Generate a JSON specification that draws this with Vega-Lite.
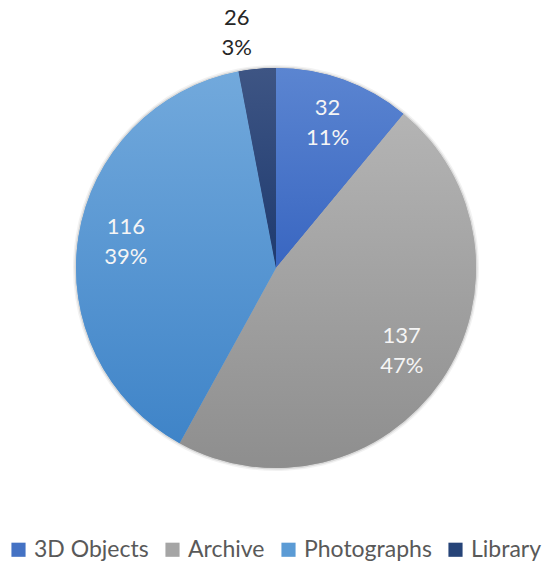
{
  "$schema": "https://vega.github.io/schema/vega-lite/v6.json",
  "width": 542,
  "height": 536,
  "autosize": "none",
  "padding": {"left": 5, "top": 0, "right": 0, "bottom": 27},
  "background": "white",
  "config": {"view": {"stroke": null}, "font": "Lato"},
  "data": {
    "values": [
      {"category": "3D Objects", "count": 32, "share": 0.11},
      {"category": "Archive", "count": 137, "share": 0.47},
      {"category": "Photographs", "count": 116, "share": 0.39},
      {"category": "Library", "count": 26, "share": 0.03}
    ]
  },
  "transform": [{"window": [{"op": "row_number", "as": "slot"}]}],
  "encoding": {
    "theta": {"field": "share", "type": "quantitative", "stack": true},
    "order": {"field": "slot", "type": "quantitative", "sort": "ascending"}
  },
  "layer": [
    {
      "mark": {"type": "arc", "radius": 203, "fill": "#000000", "opacity": 0.05}
    },
    {
      "mark": {"type": "arc", "radius": 201.5, "fill": "#000000", "opacity": 0.1}
    },
    {
      "mark": {"type": "arc", "radius": 200},
      "encoding": {
        "color": {
          "field": "category",
          "type": "nominal",
          "sort": ["3D Objects", "Archive", "Photographs", "Library"],
          "scale": {
            "domain": ["3D Objects", "Archive", "Photographs", "Library"],
            "range": ["#4472C4", "#A5A5A5", "#5B9BD5", "#264478"]
          },
          "legend": {
            "orient": "none",
            "legendX": 2,
            "legendY": 538,
            "direction": "horizontal",
            "title": null,
            "symbolType": "square",
            "symbolSize": 200,
            "symbolStrokeWidth": 0,
            "labelFont": "Lato",
            "labelFontSize": 23,
            "labelColor": "#595959",
            "labelOffset": 4,
            "columnPadding": 12
          }
        }
      }
    },
    {
      "mark": {"type": "arc", "radius": 200},
      "encoding": {
        "fill": {
          "condition": [
            {"test": "datum.category === '3D Objects'", "value": {"gradient": "linear", "x1": 0, "y1": 0, "x2": 0, "y2": 1, "stops": [{"offset": 0, "color": "#5b85d1"}, {"offset": 1, "color": "#3966c1"}]}},
            {"test": "datum.category === 'Archive'", "value": {"gradient": "linear", "x1": 0, "y1": 0, "x2": 0, "y2": 1, "stops": [{"offset": 0, "color": "#b4b4b4"}, {"offset": 1, "color": "#8e8e8e"}]}},
            {"test": "datum.category === 'Photographs'", "value": {"gradient": "linear", "x1": 0, "y1": 0, "x2": 0, "y2": 1, "stops": [{"offset": 0, "color": "#72a9dc"}, {"offset": 1, "color": "#3f84c8"}]}}
          ],
          "value": {"gradient": "linear", "x1": 0, "y1": 0, "x2": 0, "y2": 1, "stops": [{"offset": 0, "color": "#3e5584"}, {"offset": 1, "color": "#1e3a6f"}]}
        }
      }
    },
    {
      "mark": {"type": "text", "radius": 152, "dy": -17, "font": "Lato", "fontSize": 22, "fill": "#f5f5f5", "baseline": "middle"},
      "encoding": {
        "text": {"condition": {"test": "datum.category === 'Library'", "value": ""}, "field": "count", "type": "quantitative"}
      }
    },
    {
      "mark": {"type": "text", "radius": 152, "dy": 13, "font": "Lato", "fontSize": 22, "fill": "#f5f5f5", "baseline": "middle"},
      "encoding": {
        "text": {"condition": {"test": "datum.category === 'Library'", "value": ""}, "field": "share", "type": "quantitative", "format": ".0%"}
      }
    },
    {
      "mark": {"type": "text", "radius": 236, "dx": -17, "dy": -15, "font": "Lato", "fontSize": 22, "fill": "#262626", "baseline": "middle"},
      "encoding": {
        "text": {"condition": {"test": "datum.category !== 'Library'", "value": ""}, "field": "count", "type": "quantitative"}
      }
    },
    {
      "mark": {"type": "text", "radius": 236, "dx": -17, "dy": 15, "font": "Lato", "fontSize": 22, "fill": "#262626", "baseline": "middle"},
      "encoding": {
        "text": {"condition": {"test": "datum.category !== 'Library'", "value": ""}, "field": "share", "type": "quantitative", "format": ".0%"}
      }
    }
  ]
}
